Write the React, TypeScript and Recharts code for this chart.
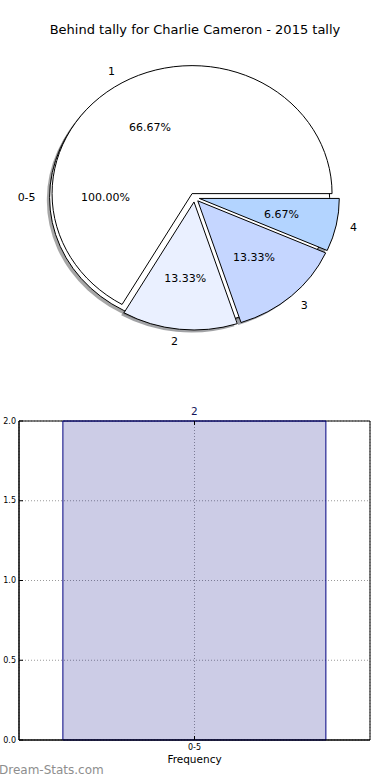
import React from 'react';
import { PieChart, Pie, BarChart, Bar, XAxis, YAxis, CartesianGrid, LabelList, ReferenceArea } from 'recharts';

const chartTitle = 'Behind tally for Charlie Cameron - 2015 tally';

// outer pie: tally bins
const tallyBins = ['0-5'];
const binCounts = [2];

// inner pie: behinds per game
const behindLabels = ['1', '2', '3', '4'];
const behindCounts = [10, 2, 2, 1];

// frequency bars
const freqBins = ['0-5'];
const freqValues = [2];
const yTicks = [0, 0.5, 1.0, 1.5, 2.0];

const sliceColors = ['#ffffff', '#eaf0ff', '#c5d6ff', '#b3d4ff'];
const outerExplode = [0.035];
const innerExplode = [0.035, 0.035, 0.035, 0.035];

const outerData = tallyBins.map((name, i) => ({ name, value: binCounts[i] }));
const innerData = behindLabels.map((name, i) => ({ name, value: behindCounts[i] }));
const barData = freqBins.map((bin, i) => ({ bin, freq: freqValues[i] }));

const FONT = '"DejaVu Sans", Verdana, sans-serif';
const RAD = Math.PI / 180;
const SQUASH = 128 / 140; // pie is drawn as an ellipse, like the original
const SHADOW_DX = -2.8;
const SHADOW_DY = 2.5;
const OUTER_MASK = 'outside-outer-pie';

const radii = (p: any) => [p.outerRadius, p.outerRadius * SQUASH];

const pt = (p: any, cx: number, cy: number, angle: number, k: number) => {
    const [rx, ry] = radii(p);
    return [cx + k * rx * Math.cos(angle * RAD), cy - k * ry * Math.sin(angle * RAD)];
};

const midOf = (p: any) => (p.startAngle + p.endAngle) / 2;

const centerOf = (p: any, explode: number[]) => pt(p, p.cx, p.cy, midOf(p), explode[p.index] || 0);

const wedgePath = (p: any, cx: number, cy: number) => {
    const [rx, ry] = radii(p);
    const [x1, y1] = pt(p, cx, cy, p.startAngle, 1);
    const [x2, y2] = pt(p, cx, cy, p.endAngle, 1);
    const large = p.endAngle - p.startAngle > 180 ? 1 : 0;
    return `M${cx},${cy} L${x1},${y1} A${rx},${ry} 0 ${large} 0 ${x2},${y2} Z`;
};

const shade = (hex: string) => {
    const n = parseInt(hex.slice(1), 16);
    const r = Math.round(((n >> 16) & 255) * 0.3);
    const g = Math.round(((n >> 8) & 255) * 0.3);
    const b = Math.round((n & 255) * 0.3);
    return `rgba(${r},${g},${b},0.5)`;
};

const pctText = (p: any) => `${(p.percent * 100).toFixed(2)}%`;

const textStyle = { fontFamily: FONT, fontSize: 11, fill: '#000' };

const pieTexts = (p: any, x: number, y: number) => {
    const mid = midOf(p);
    const [lx, ly] = pt(p, x, y, mid, 1.1);
    const [px, py] = pt(p, x, y, mid, 0.6);
    return (
        <>
            <text x={lx} y={ly} textAnchor={lx > x ? 'start' : 'end'} dominantBaseline="central" style={textStyle}>
                {p.name}
            </text>
            <text x={px} y={py} textAnchor="middle" dominantBaseline="central" style={textStyle}>
                {pctText(p)}
            </text>
        </>
    );
};

// shadows of the inner wedges, only visible outside the full "0-5" pie
const renderInnerShadow = (p: any) => {
    const [x, y] = centerOf(p, innerExplode);
    const color = sliceColors[p.index % sliceColors.length];
    return (
        <path
            d={wedgePath(p, x + SHADOW_DX, y + SHADOW_DY)}
            fill={shade(color)}
            stroke="none"
            mask={`url(#${OUTER_MASK})`}
        />
    );
};

// the full "0-5" pie with its shadow
const renderOuterShape = (p: any) => {
    const [rx, ry] = radii(p);
    const [x, y] = centerOf(p, outerExplode);
    return (
        <g>
            <defs>
                <mask id={OUTER_MASK} maskUnits="userSpaceOnUse" x={0} y={0} width={390} height={370}>
                    <rect x={0} y={0} width={390} height={370} fill="#fff" />
                    <ellipse cx={x} cy={y} rx={rx} ry={ry} fill="#000" />
                </mask>
            </defs>
            <ellipse cx={x + SHADOW_DX} cy={y + SHADOW_DY} rx={rx} ry={ry} fill={shade('#ffffff')} />
            <ellipse cx={x} cy={y} rx={rx} ry={ry} fill="#ffffff" stroke="#000" strokeWidth={1} />
        </g>
    );
};

// inner wedges and their texts
const renderInnerWedge = (p: any) => {
    const [x, y] = centerOf(p, innerExplode);
    const color = sliceColors[p.index % sliceColors.length];
    return (
        <g>
            <path d={wedgePath(p, x, y)} fill={color} stroke="#000" strokeWidth={1} />
            {pieTexts(p, x, y)}
        </g>
    );
};

// texts of the outer pie
const renderOuterText = (p: any) => {
    const [x, y] = centerOf(p, outerExplode);
    return <g>{pieTexts(p, x, y)}</g>;
};

const LeftTick = (props: any) => {
    const { x, y, payload } = props;
    return (
        <g>
            <line x1={x + 3} x2={x + 7} y1={y} y2={y} stroke="#000" />
            <text x={x} y={y} textAnchor="end" dominantBaseline="central" style={{ fontFamily: FONT, fontSize: 8, fill: '#000' }}>
                {Number(payload.value).toFixed(1)}
            </text>
        </g>
    );
};

const RightTick = (props: any) => {
    const { x, y } = props;
    return <line x1={x - 3} x2={x - 7} y1={y} y2={y} stroke="#000" />;
};

const BottomTick = (props: any) => {
    const { x, y, payload } = props;
    return (
        <g>
            <line x1={x} x2={x} y1={y - 3} y2={y - 7} stroke="#000" />
            <text x={x} y={y + 4} textAnchor="middle" dominantBaseline="central" style={{ fontFamily: FONT, fontSize: 8, fill: '#000' }}>
                {payload.value}
            </text>
        </g>
    );
};

const TopTick = (props: any) => {
    const { x, y } = props;
    return <line x1={x} x2={x} y1={y + 3} y2={y + 7} stroke="#000" />;
};

const pieProps = {
    dataKey: 'value',
    nameKey: 'name',
    cx: 194.5,
    cy: 197.5,
    outerRadius: 140,
    startAngle: 0,
    endAngle: 360,
    fill: 'none',
    stroke: 'none',
    labelLine: false,
    isAnimationActive: false
};

const App: React.FC = () => {
    return (
        <div
            style={{
                position: 'absolute',
                left: 0,
                top: 0,
                width: 390,
                height: 780,
                background: '#fff',
                fontFamily: FONT,
                overflow: 'hidden'
            }}
        >
            <div
                style={{
                    position: 'absolute',
                    top: 21,
                    left: 0,
                    width: 390,
                    textAlign: 'center',
                    fontSize: 13,
                    lineHeight: '18px',
                    color: '#000'
                }}
            >
                {chartTitle}
            </div>

            <div style={{ position: 'absolute', left: 0, top: 0 }}>
                <PieChart width={390} height={370} margin={{ top: 0, right: 0, bottom: 0, left: 0 }}>
                    <Pie {...pieProps} data={innerData} label={renderInnerShadow} />
                    <Pie {...pieProps} data={outerData} label={renderOuterShape} />
                    <Pie {...pieProps} data={innerData} label={renderInnerWedge} />
                    <Pie {...pieProps} data={outerData} label={renderOuterText} />
                </PieChart>
            </div>

            <div style={{ position: 'absolute', left: 0, top: 380 }}>
                <BarChart
                    width={390}
                    height={400}
                    data={barData}
                    margin={{ top: 40, right: 19, bottom: 0, left: 0 }}
                    barCategoryGap="12.5%"
                >
                    <CartesianGrid stroke="#9a9a9a" strokeDasharray="1 2" />
                    <XAxis
                        dataKey="bin"
                        height={40}
                        interval={0}
                        tickSize={0}
                        tickMargin={3}
                        tickLine={false}
                        tick={<BottomTick />}
                        axisLine={{ stroke: '#000' }}
                        label={{
                            value: 'Frequency',
                            position: 'insideBottom',
                            offset: 17,
                            style: { fontFamily: FONT, fontSize: 10.5, fill: '#000' }
                        }}
                    />
                    <XAxis
                        xAxisId="top"
                        orientation="top"
                        dataKey="bin"
                        height={1}
                        interval={0}
                        tickSize={0}
                        tickMargin={3}
                        tickLine={false}
                        tick={<TopTick />}
                        axisLine={false}
                    />
                    <YAxis
                        width={19}
                        domain={[0, 2]}
                        ticks={yTicks}
                        tickSize={0}
                        tickMargin={3}
                        tickLine={false}
                        tick={<LeftTick />}
                        axisLine={{ stroke: '#000' }}
                    />
                    <YAxis
                        yAxisId="right"
                        orientation="right"
                        width={1}
                        domain={[0, 2]}
                        ticks={yTicks}
                        tickSize={0}
                        tickMargin={3}
                        tickLine={false}
                        tick={<RightTick />}
                        axisLine={false}
                    />
                    <Bar
                        dataKey="freq"
                        fill="rgba(0,0,128,0.2)"
                        stroke="#000080"
                        strokeWidth={1}
                        isAnimationActive={false}
                    >
                        <LabelList
                            dataKey="freq"
                            position="top"
                            offset={6}
                            style={{ fontFamily: FONT, fontSize: 10.5, fill: '#14145a' }}
                        />
                    </Bar>
                    <ReferenceArea y1={0} y2={2} fill="none" stroke="#000" strokeWidth={1} ifOverflow="visible" />
                </BarChart>
            </div>

            <div
                style={{
                    position: 'absolute',
                    left: -1,
                    top: 763,
                    fontSize: 12,
                    lineHeight: '14px',
                    color: '#8e8e8e',
                    whiteSpace: 'nowrap'
                }}
            >
                Dream-Stats.com
            </div>
        </div>
    );
};

export default App;
